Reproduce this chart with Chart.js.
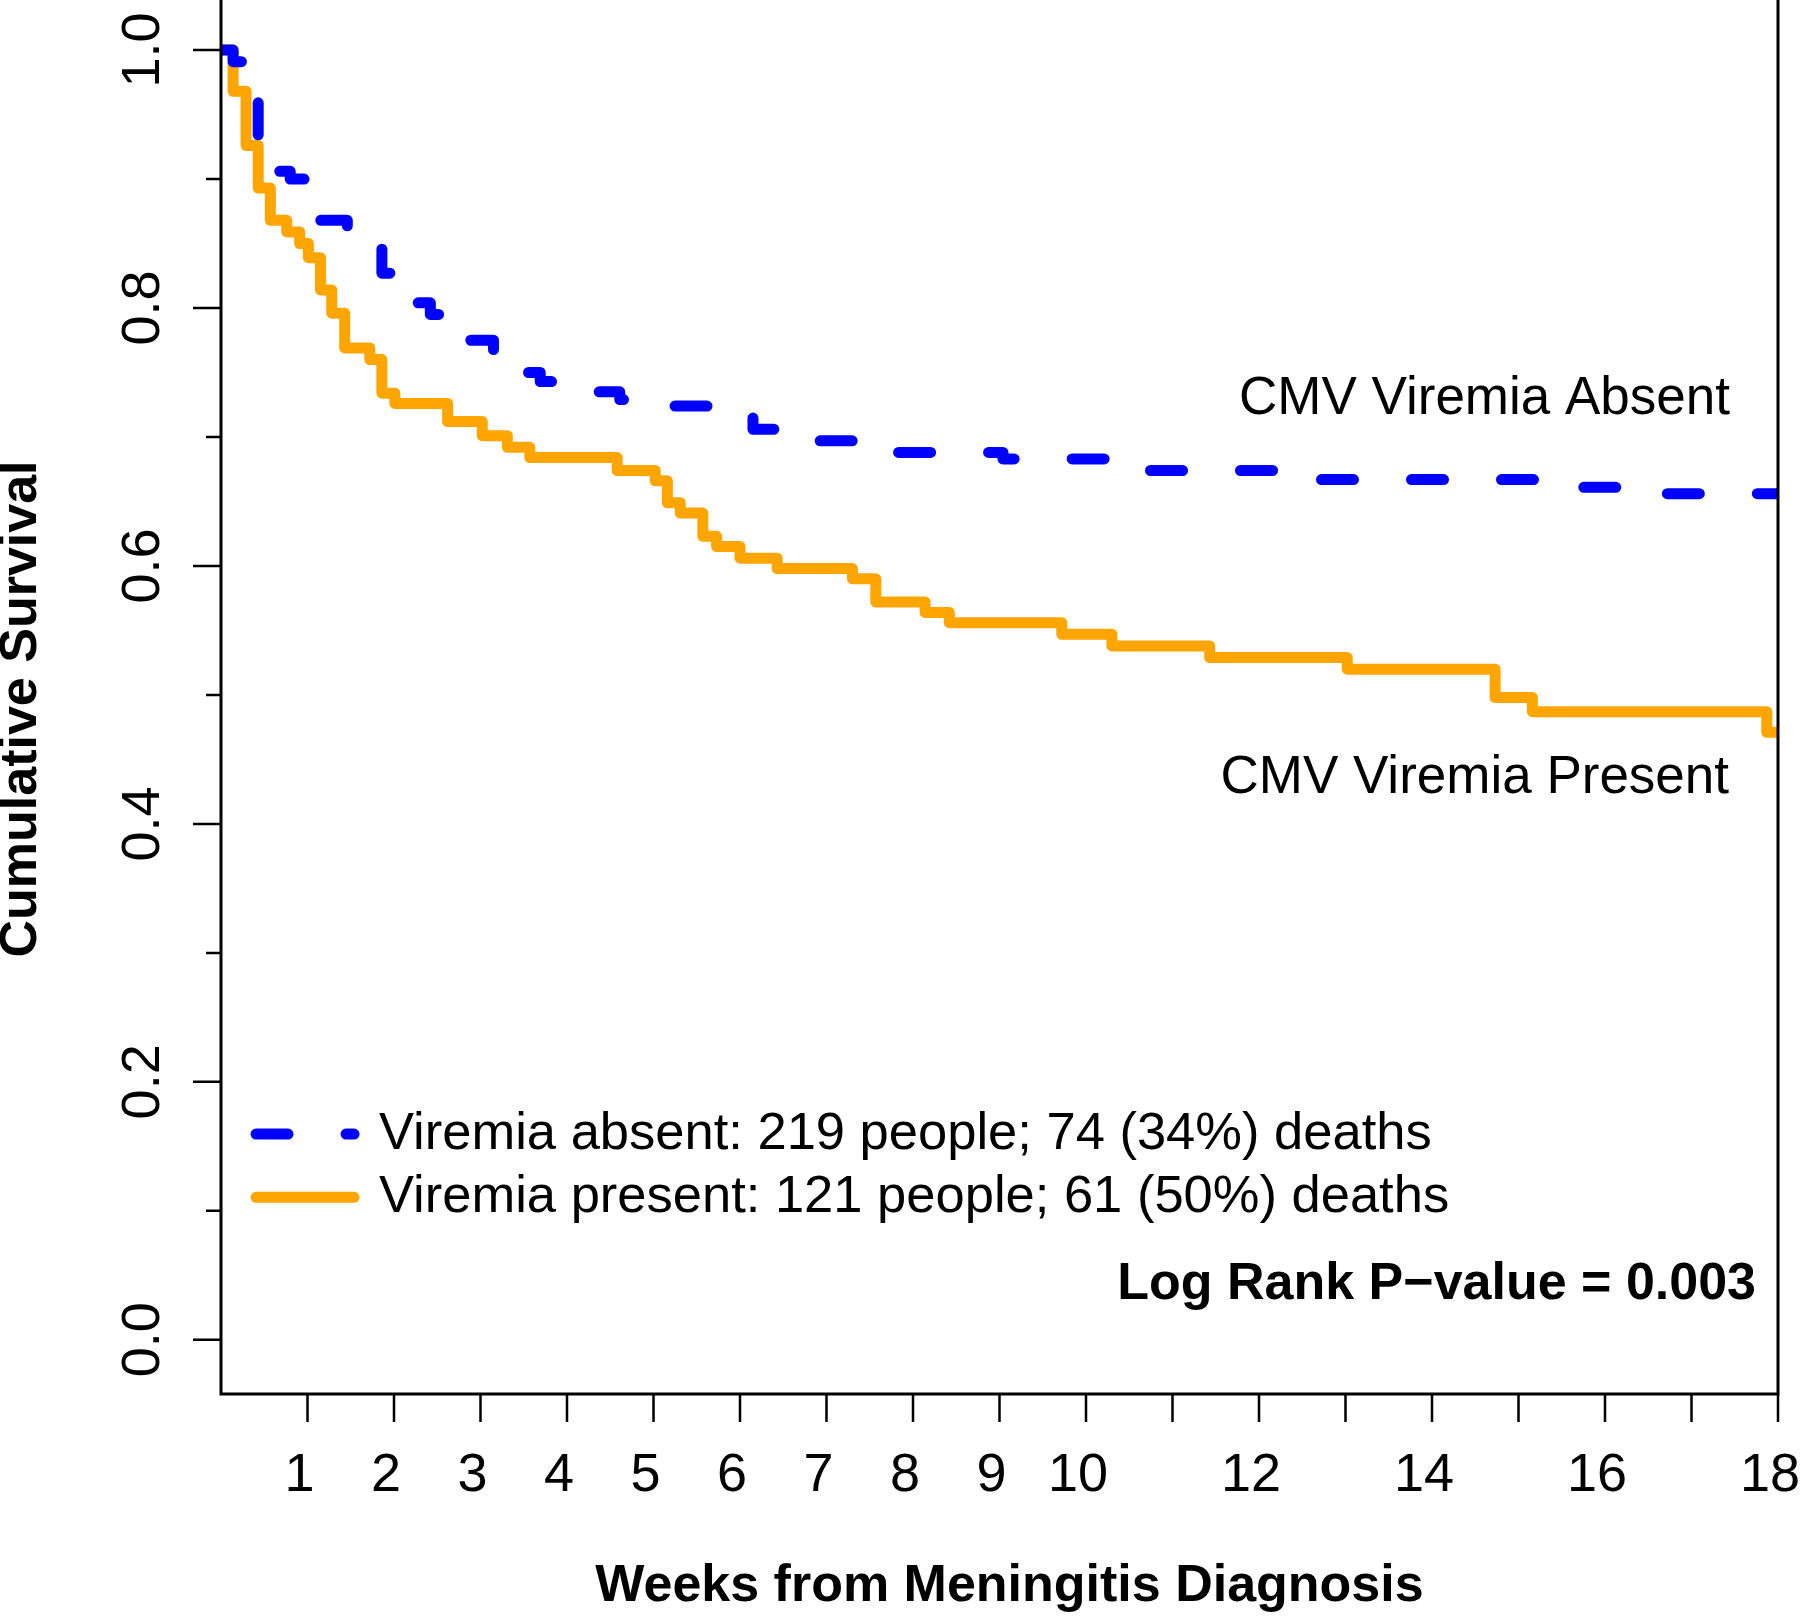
<!DOCTYPE html>
<html>
<head>
<meta charset="utf-8">
<script src="https://cdn.jsdelivr.net/npm/chart.js@4.4.1/dist/chart.umd.min.js"></script>
<style>
  html, body { margin: 0; padding: 0; background: #fff; }
  canvas { display: block; }
</style>
</head>
<body>
<canvas id="kmChart" width="1800" height="1617"></canvas>
<script>
// Kaplan-Meier steps: week of each drop and survival after it
const absentWeeks = [0, 0.14, 0.43, 0.80, 1.06, 1.46, 1.86, 2.13, 2.42, 2.71, 3.15, 3.40, 3.69, 4.09, 4.61, 4.96, 6.15, 6.69, 7.60, 9.04, 10.51, 12.47, 15.54, 16.46, 18];
const absentSurv = [1, 0.991, 0.906, 0.900, 0.868, 0.863, 0.827, 0.804, 0.795, 0.775, 0.766, 0.750, 0.743, 0.735, 0.729, 0.724, 0.706, 0.697, 0.688, 0.683, 0.674, 0.667, 0.661, 0.656, 0.656];

const presentWeeks = [0, 0.14, 0.29, 0.43, 0.57, 0.76, 0.91, 1.01, 1.15, 1.28, 1.43, 1.72, 1.86, 2.01, 2.62, 3.02, 3.31, 3.57, 4.58, 5.02, 5.16, 5.31, 5.57, 5.73, 6.00, 6.43, 7.30, 7.57, 8.14, 8.42, 9.72, 10.30, 11.43, 13.02, 14.73, 15.16, 17.87, 18];
const presentSurv = [1, 0.968, 0.926, 0.893, 0.868, 0.859, 0.850, 0.839, 0.814, 0.796, 0.769, 0.760, 0.734, 0.726, 0.712, 0.701, 0.692, 0.684, 0.674, 0.666, 0.649, 0.641, 0.623, 0.615, 0.606, 0.598, 0.590, 0.572, 0.564, 0.556, 0.547, 0.538, 0.529, 0.520, 0.498, 0.487, 0.471, 0.471];

const xTickWeeks = [1, 2, 3, 4, 5, 6, 7, 8, 9, 10, 11, 12, 13, 14, 15, 16, 17, 18];
const xLabelWeeks = [1, 2, 3, 4, 5, 6, 7, 8, 9, 10, 12, 14, 16, 18];
const yMajorTicks = [0, 0.2, 0.4, 0.6, 0.8, 1.0];
const yTickLabels = ['0.0', '0.2', '0.4', '0.6', '0.8', '1.0'];
const yMinorTicks = [0.1, 0.3, 0.5, 0.7, 0.9];

const legendLabels = ['Viremia absent: 219 people; 74 (34%) deaths', 'Viremia present: 121 people; 61 (50%) deaths'];
const curveLabels = ['CMV Viremia Absent', 'CMV Viremia Present'];
const pValueText = 'Log Rank P\u2212value = 0.003';
const xTitle = 'Weeks from Meningitis Diagnosis';
const yTitle = 'Cumulative Survival';

const BLUE = '#0000ff';
const ORANGE = '#ffa500';
const DASH = [32, 58];
const FONT = "'Liberation Sans', Arial, sans-serif";

const toPoints = (xs, ys) => xs.map((w, i) => ({ x: w, y: ys[i] }));

// axes, ticks, texts and legend drawn on top, placed through the chart scales
const decorations = {
  id: 'decorations',
  afterDraw(chart) {
    const { ctx, chartArea: a, scales: { x, y } } = chart;
    ctx.save();
    ctx.strokeStyle = '#000';
    ctx.fillStyle = '#000';
    ctx.lineCap = 'butt';

    ctx.lineWidth = 3;
    ctx.beginPath();
    ctx.moveTo(a.left, a.top);
    ctx.lineTo(a.left, a.bottom);
    ctx.lineTo(a.right, a.bottom);
    ctx.lineTo(a.right, a.top);
    ctx.stroke();

    ctx.lineWidth = 2.5;
    ctx.beginPath();
    xTickWeeks.forEach(w => {
      const px = x.getPixelForValue(w);
      ctx.moveTo(px, a.bottom);
      ctx.lineTo(px, a.bottom + 28);
    });
    yMajorTicks.forEach(v => {
      const py = y.getPixelForValue(v);
      ctx.moveTo(a.left, py);
      ctx.lineTo(a.left - 28, py);
    });
    yMinorTicks.forEach(v => {
      const py = y.getPixelForValue(v);
      ctx.moveTo(a.left, py);
      ctx.lineTo(a.left - 15, py);
    });
    ctx.stroke();

    // tick labels
    ctx.font = `54px ${FONT}`;
    ctx.textAlign = 'center';
    ctx.textBaseline = 'middle';
    xLabelWeeks.forEach(w => {
      ctx.fillText(String(w), x.getPixelForValue(w) - 8, a.bottom + 82);
    });
    yMajorTicks.forEach((v, i) => {
      ctx.save();
      ctx.translate(a.left - 77, y.getPixelForValue(v));
      ctx.rotate(-Math.PI / 2);
      ctx.fillText(yTickLabels[i], 0, 0);
      ctx.restore();
    });

    // axis titles
    ctx.font = `bold 52px ${FONT}`;
    ctx.fillText(xTitle, (a.left + a.right) / 2 + 10, a.bottom + 193);
    ctx.save();
    ctx.translate(22, (a.top + a.bottom) / 2 + 12);
    ctx.rotate(-Math.PI / 2);
    ctx.fillText(yTitle, 0, 0);
    ctx.restore();

    // curve labels and p-value
    ctx.textAlign = 'right';
    ctx.font = `53px ${FONT}`;
    ctx.fillText(curveLabels[0], x.getPixelForValue(17.445), y.getPixelForValue(0.729));
    ctx.fillText(curveLabels[1], x.getPixelForValue(17.434), y.getPixelForValue(0.435));
    ctx.font = `bold 52px ${FONT}`;
    ctx.fillText(pValueText, x.getPixelForValue(17.746), y.getPixelForValue(0.043));

    // legend
    const rows = [0.1595, 0.1105];
    const x0 = x.getPixelForValue(0.405);
    const x1 = x.getPixelForValue(1.538);
    ctx.lineWidth = 11;
    ctx.lineCap = 'round';
    ctx.strokeStyle = BLUE;
    ctx.setLineDash(DASH);
    ctx.beginPath();
    ctx.moveTo(x0, y.getPixelForValue(rows[0]));
    ctx.lineTo(x1, y.getPixelForValue(rows[0]));
    ctx.stroke();
    ctx.setLineDash([]);
    ctx.strokeStyle = ORANGE;
    ctx.beginPath();
    ctx.moveTo(x0, y.getPixelForValue(rows[1]));
    ctx.lineTo(x1, y.getPixelForValue(rows[1]));
    ctx.stroke();

    ctx.textAlign = 'left';
    ctx.font = `52.5px ${FONT}`;
    legendLabels.forEach((t, i) => {
      ctx.fillText(t, x.getPixelForValue(1.827), y.getPixelForValue(rows[i]));
    });
    ctx.restore();
  }
};

new Chart(document.getElementById('kmChart'), {
  type: 'line',
  data: {
    datasets: [
      {
        label: legendLabels[0],
        data: toPoints(absentWeeks, absentSurv),
        borderColor: BLUE,
        borderWidth: 11,
        borderDash: DASH,
        borderCapStyle: 'round',
        borderJoinStyle: 'round',
        stepped: true,
        pointRadius: 0,
        fill: false,
        clip: 0
      },
      {
        label: legendLabels[1],
        data: toPoints(presentWeeks, presentSurv),
        borderColor: ORANGE,
        borderWidth: 11,
        borderCapStyle: 'round',
        borderJoinStyle: 'round',
        stepped: true,
        pointRadius: 0,
        fill: false,
        clip: 0
      }
    ]
  },
  options: {
    responsive: false,
    animation: false,
    devicePixelRatio: 1,
    events: [],
    layout: { padding: { left: 221, right: 22, top: 0, bottom: 223 } },
    plugins: { legend: { display: false }, title: { display: false }, tooltip: { enabled: false } },
    scales: {
      x: { type: 'linear', min: 0, max: 18, display: false },
      y: { type: 'linear', min: -0.042, max: 1.0388, display: false }
    }
  },
  plugins: [decorations]
});
</script>
</body>
</html>
